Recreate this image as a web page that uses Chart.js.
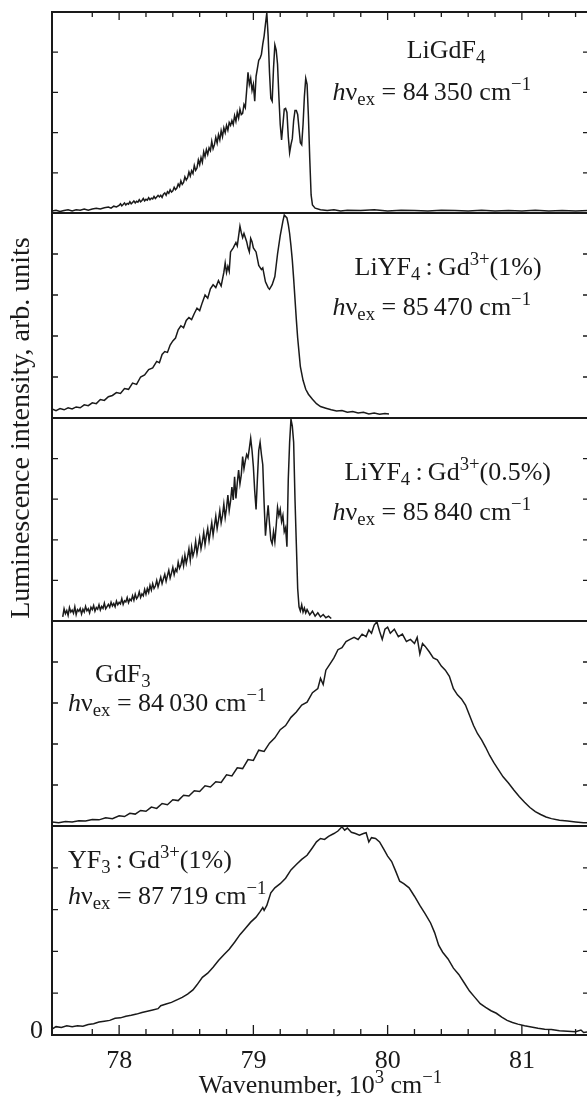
<!DOCTYPE html>
<html>
<head>
<meta charset="utf-8">
<script src="https://cdn.jsdelivr.net/npm/chart.js@4.4.1/dist/chart.umd.min.js"></script>
<style>
    html, body { margin: 0; padding: 0; background: #fff; overflow: hidden; }
    #wrap { position: relative; width: 600px; height: 1101px; }
</style>
</head>
<body>
<div id="wrap"><canvas id="spectra" width="600" height="1101"></canvas></div>
<script>
// Spectra: [wavenumber (10^3 cm^-1), intensity (arb. units, panel = 0..5)]
const liGdF4 = [
    [77.50,0.05],[77.53,0.07],[77.56,0.04],[77.59,0.06],[77.62,0.08],[77.65,0.05],[77.68,0.08],[77.71,0.07],
    [77.74,0.10],[77.77,0.07],[77.80,0.10],[77.83,0.12],[77.86,0.10],[77.89,0.13],[77.92,0.15],[77.94,0.12],
    [77.96,0.17],[77.98,0.15],[78.00,0.19],[78.01,0.23],[78.02,0.18],[78.03,0.21],[78.04,0.25],[78.05,0.20],
    [78.06,0.24],[78.07,0.22],[78.08,0.28],[78.09,0.23],[78.10,0.26],[78.11,0.30],[78.12,0.25],[78.13,0.29],
    [78.14,0.27],[78.15,0.33],[78.16,0.28],[78.17,0.31],[78.18,0.36],[78.19,0.30],[78.20,0.34],[78.21,0.32],
    [78.22,0.38],[78.23,0.33],[78.24,0.37],[78.25,0.35],[78.26,0.41],[78.27,0.36],[78.28,0.40],[78.29,0.44],
    [78.30,0.40],[78.31,0.44],[78.32,0.39],[78.33,0.47],[78.34,0.50],[78.35,0.44],[78.36,0.53],[78.37,0.49],
    [78.38,0.58],[78.39,0.52],[78.40,0.55],[78.41,0.64],[78.42,0.58],[78.43,0.62],[78.44,0.72],[78.45,0.66],
    [78.46,0.80],[78.47,0.71],[78.48,0.76],[78.49,0.90],[78.50,0.82],[78.51,0.88],[78.52,1.02],[78.53,0.92],
    [78.54,1.05],[78.55,0.98],[78.56,1.18],[78.57,1.06],[78.58,1.12],[78.59,1.32],[78.60,1.20],[78.61,1.38],
    [78.62,1.26],[78.63,1.52],[78.64,1.40],[78.65,1.58],[78.66,1.46],[78.67,1.62],[78.68,1.55],[78.69,1.78],
    [78.70,1.60],[78.71,1.70],[78.72,1.88],[78.73,1.74],[78.74,1.95],[78.75,1.82],[78.76,2.05],[78.77,1.90],
    [78.78,2.12],[78.79,2.00],[78.80,2.18],[78.81,2.06],[78.82,2.25],[78.83,2.18],[78.84,2.30],[78.85,2.20],
    [78.86,2.42],[78.87,2.28],[78.88,2.50],[78.89,2.36],[78.90,2.58],[78.91,2.45],[78.92,2.48],[78.93,2.70],
    [78.94,2.62],[78.95,3.05],[78.96,3.50],[78.97,3.20],[78.98,3.35],[78.99,3.05],[79.00,3.20],[79.01,2.78],
    [79.02,3.40],[79.03,3.60],[79.04,3.80],[79.05,3.85],[79.06,3.95],[79.07,4.20],[79.08,4.40],[79.09,4.70],
    [79.10,4.98],[79.11,4.40],[79.12,3.50],[79.13,2.85],[79.14,2.78],[79.15,3.60],[79.16,4.18],[79.17,4.05],
    [79.18,3.70],[79.19,2.90],[79.20,2.20],[79.21,1.82],[79.22,2.20],[79.23,2.58],[79.24,2.60],[79.25,2.50],
    [79.26,1.90],[79.27,1.50],[79.28,1.70],[79.29,1.85],[79.30,2.30],[79.31,2.55],[79.32,2.55],[79.33,2.45],
    [79.34,2.10],[79.35,1.75],[79.36,1.70],[79.37,2.20],[79.38,2.90],[79.39,3.35],[79.40,3.20],[79.41,2.40],
    [79.42,1.35],[79.43,0.45],[79.44,0.20],[79.46,0.12],[79.50,0.08],[79.55,0.06],[79.60,0.08],[79.65,0.05],
    [79.70,0.07],[79.80,0.06],[79.90,0.08],[80.00,0.05],[80.10,0.07],[80.20,0.06],[80.30,0.05],[80.40,0.07],
    [80.50,0.06],[80.60,0.05],[80.70,0.07],[80.80,0.05],[80.90,0.06],[81.00,0.05],[81.10,0.07],[81.20,0.05],
    [81.30,0.06],[81.40,0.05],[81.50,0.06]
];

const liYF4Gd1 = [
    [77.50,0.22],[77.53,0.18],[77.56,0.23],[77.59,0.20],[77.62,0.25],[77.65,0.22],[77.68,0.27],[77.71,0.25],
    [77.74,0.32],[77.77,0.30],[77.80,0.37],[77.83,0.35],[77.86,0.45],[77.89,0.43],[77.92,0.52],[77.95,0.55],
    [77.98,0.62],[78.01,0.60],[78.04,0.72],[78.07,0.70],[78.10,0.85],[78.13,0.82],[78.16,1.00],[78.19,1.05],
    [78.22,1.18],[78.25,1.22],[78.28,1.38],[78.30,1.35],[78.32,1.55],[78.34,1.62],[78.36,1.60],[78.38,1.78],
    [78.40,1.88],[78.42,1.95],[78.44,2.15],[78.46,2.25],[78.48,2.20],[78.50,2.38],[78.52,2.45],[78.54,2.40],
    [78.56,2.55],[78.58,2.68],[78.60,2.62],[78.62,2.82],[78.64,3.00],[78.66,2.92],[78.68,3.15],[78.70,3.25],
    [78.72,3.18],[78.74,3.35],[78.76,3.22],[78.78,3.55],[78.79,3.78],[78.80,3.55],[78.81,3.70],[78.82,3.58],
    [78.83,4.05],[78.85,4.15],[78.87,4.28],[78.88,4.20],[78.90,4.68],[78.91,4.52],[78.92,4.40],[78.93,4.50],
    [78.95,4.30],[78.96,4.15],[78.97,4.05],[78.98,4.38],[78.99,4.30],[79.00,4.15],[79.02,4.05],[79.04,3.72],
    [79.06,3.62],[79.07,3.66],[79.09,3.32],[79.11,3.18],[79.12,3.14],[79.14,3.25],[79.16,3.45],[79.18,4.00],
    [79.20,4.45],[79.22,4.80],[79.23,4.95],[79.25,4.88],[79.26,4.72],[79.27,4.50],[79.28,4.20],[79.29,3.85],
    [79.30,3.40],[79.31,2.90],[79.32,2.40],[79.33,1.95],[79.34,1.60],[79.35,1.25],[79.37,0.92],[79.39,0.70],
    [79.41,0.58],[79.44,0.46],[79.47,0.35],[79.50,0.28],[79.54,0.24],[79.58,0.20],[79.62,0.17],[79.66,0.18],
    [79.70,0.14],[79.74,0.16],[79.78,0.12],[79.82,0.14],[79.86,0.10],[79.90,0.12],[79.94,0.09],[79.98,0.11],
    [80.01,0.10]
];

const liYF4Gd05 = [
    [77.58,0.10],[77.59,0.30],[77.60,0.18],[77.61,0.26],[77.62,0.14],[77.63,0.33],[77.64,0.22],[77.65,0.27],
    [77.66,0.19],[77.67,0.35],[77.68,0.16],[77.69,0.28],[77.70,0.24],[77.71,0.31],[77.72,0.17],[77.73,0.29],
    [77.74,0.22],[77.75,0.36],[77.76,0.25],[77.77,0.30],[77.78,0.20],[77.79,0.34],[77.80,0.28],[77.81,0.38],
    [77.82,0.24],[77.83,0.33],[77.84,0.29],[77.85,0.40],[77.86,0.27],[77.87,0.36],[77.88,0.31],[77.89,0.44],
    [77.90,0.30],[77.92,0.41],[77.93,0.34],[77.94,0.46],[77.95,0.37],[77.96,0.43],[77.97,0.35],[77.98,0.49],
    [77.99,0.40],[78.00,0.46],[78.01,0.42],[78.02,0.55],[78.03,0.41],[78.04,0.50],[78.05,0.47],[78.06,0.58],
    [78.07,0.45],[78.08,0.54],[78.09,0.50],[78.10,0.62],[78.11,0.51],[78.12,0.66],[78.13,0.55],[78.14,0.60],
    [78.15,0.72],[78.16,0.58],[78.17,0.67],[78.18,0.62],[78.19,0.78],[78.20,0.66],[78.21,0.80],[78.22,0.70],
    [78.23,0.88],[78.24,0.76],[78.25,0.92],[78.26,0.80],[78.27,0.86],[78.28,1.00],[78.29,0.84],[78.30,0.96],
    [78.31,1.08],[78.32,0.92],[78.33,1.04],[78.34,1.15],[78.35,0.98],[78.36,1.12],[78.37,1.25],[78.38,1.06],
    [78.39,1.18],[78.40,1.32],[78.41,1.14],[78.42,1.28],[78.43,1.22],[78.44,1.45],[78.45,1.30],[78.46,1.38],
    [78.47,1.55],[78.48,1.36],[78.49,1.62],[78.50,1.42],[78.51,1.58],[78.52,1.78],[78.53,1.50],[78.54,1.82],
    [78.55,1.60],[78.56,1.72],[78.57,1.96],[78.58,1.66],[78.59,1.85],[78.60,2.05],[78.61,1.78],[78.62,1.95],
    [78.63,2.18],[78.64,1.88],[78.65,2.10],[78.66,2.28],[78.67,1.98],[78.68,2.20],[78.69,2.42],[78.70,2.12],
    [78.71,2.35],[78.72,2.58],[78.73,2.28],[78.74,2.48],[78.75,2.72],[78.76,2.42],[78.77,2.60],[78.78,2.88],
    [78.79,2.55],[78.80,2.78],[78.81,3.10],[78.82,2.72],[78.83,2.95],[78.84,3.30],[78.85,2.98],[78.86,3.55],
    [78.87,3.02],[78.88,3.40],[78.89,3.72],[78.90,3.38],[78.91,3.60],[78.92,4.05],[78.93,3.75],[78.94,3.95],
    [78.95,4.10],[78.96,4.02],[78.97,4.25],[78.98,4.50],[78.99,4.20],[79.00,3.80],[79.01,3.20],[79.02,2.75],
    [79.03,3.50],[79.04,4.20],[79.05,4.40],[79.06,4.10],[79.07,3.85],[79.08,2.90],[79.09,2.10],[79.10,2.50],
    [79.11,2.85],[79.12,2.40],[79.13,2.00],[79.14,1.90],[79.15,2.20],[79.16,1.95],[79.17,2.35],[79.18,2.80],
    [79.19,2.60],[79.20,2.75],[79.21,2.45],[79.22,2.60],[79.23,2.20],[79.24,2.30],[79.25,1.83],[79.26,3.50],
    [79.27,4.40],[79.28,4.97],[79.29,4.80],[79.30,4.40],[79.31,3.00],[79.32,1.90],[79.33,0.80],[79.34,0.35],
    [79.35,0.25],[79.36,0.40],[79.37,0.22],[79.38,0.32],[79.39,0.20],[79.40,0.28],[79.42,0.15],[79.44,0.24],
    [79.46,0.12],[79.48,0.20],[79.50,0.10],[79.52,0.16],[79.54,0.08],[79.56,0.12],[79.58,0.06]
];

const gdF3 = [
    [77.50,0.10],[77.55,0.08],[77.60,0.11],[77.65,0.10],[77.70,0.13],[77.75,0.12],[77.80,0.16],[77.85,0.15],
    [77.90,0.20],[77.95,0.18],[78.00,0.25],[78.04,0.23],[78.08,0.31],[78.12,0.29],[78.16,0.38],[78.20,0.36],
    [78.24,0.46],[78.28,0.43],[78.32,0.55],[78.36,0.52],[78.40,0.64],[78.44,0.62],[78.48,0.75],[78.52,0.73],
    [78.56,0.86],[78.60,0.84],[78.64,0.98],[78.68,0.95],[78.72,1.08],[78.76,1.06],[78.80,1.25],[78.84,1.22],
    [78.88,1.42],[78.92,1.40],[78.96,1.62],[79.00,1.60],[79.04,1.85],[79.08,1.82],[79.12,2.02],[79.16,2.15],
    [79.20,2.35],[79.24,2.45],[79.28,2.65],[79.32,2.78],[79.36,2.95],[79.40,3.02],[79.44,3.25],[79.48,3.35],
    [79.50,3.60],[79.52,3.45],[79.54,3.80],[79.57,3.95],[79.60,4.10],[79.63,4.30],[79.66,4.35],[79.69,4.50],
    [79.72,4.55],[79.75,4.60],[79.78,4.55],[79.81,4.68],[79.84,4.62],[79.86,4.78],[79.88,4.70],[79.90,4.90],
    [79.92,4.98],[79.94,4.75],[79.96,4.55],[79.98,4.80],[80.00,4.85],[80.02,4.70],[80.05,4.80],[80.08,4.62],
    [80.11,4.68],[80.14,4.50],[80.17,4.55],[80.20,4.45],[80.22,4.60],[80.24,4.20],[80.26,4.45],[80.28,4.38],
    [80.31,4.25],[80.34,4.10],[80.37,4.05],[80.40,3.90],[80.43,3.80],[80.46,3.65],[80.49,3.35],[80.52,3.20],
    [80.55,3.10],[80.58,2.95],[80.61,2.70],[80.64,2.45],[80.67,2.25],[80.70,2.10],[80.73,1.92],[80.76,1.72],
    [80.79,1.55],[80.82,1.40],[80.86,1.20],[80.90,1.05],[80.94,0.88],[80.98,0.72],[81.02,0.58],[81.06,0.45],
    [81.10,0.35],[81.14,0.28],[81.18,0.22],[81.22,0.18],[81.28,0.14],[81.34,0.12],[81.40,0.10],[81.46,0.08],
    [81.50,0.08]
];

const yF3Gd1 = [
    [77.50,0.14],[77.53,0.20],[77.57,0.18],[77.61,0.22],[77.65,0.20],[77.69,0.22],[77.73,0.21],[77.77,0.25],
    [77.81,0.27],[77.85,0.31],[77.89,0.33],[77.93,0.35],[77.97,0.40],[78.01,0.41],[78.05,0.45],[78.09,0.47],
    [78.13,0.50],[78.17,0.54],[78.21,0.57],[78.25,0.60],[78.29,0.63],[78.31,0.70],[78.35,0.74],[78.39,0.78],
    [78.43,0.84],[78.47,0.90],[78.51,0.98],[78.55,1.08],[78.58,1.20],[78.62,1.38],[78.66,1.48],[78.70,1.62],
    [78.74,1.78],[78.78,1.92],[78.82,2.05],[78.86,2.22],[78.90,2.40],[78.94,2.55],[78.98,2.70],[79.02,2.82],
    [79.05,2.95],[79.07,3.05],[79.08,2.98],[79.10,3.10],[79.13,3.40],[79.16,3.52],[79.20,3.62],[79.24,3.75],
    [79.28,3.95],[79.32,4.08],[79.36,4.20],[79.40,4.30],[79.44,4.48],[79.47,4.62],[79.50,4.70],[79.53,4.68],
    [79.56,4.75],[79.60,4.82],[79.63,4.88],[79.66,4.98],[79.68,4.90],[79.70,4.95],[79.73,4.85],[79.76,4.82],
    [79.79,4.78],[79.82,4.82],[79.84,4.84],[79.86,4.62],[79.88,4.72],[79.91,4.70],[79.94,4.62],[79.97,4.45],
    [80.00,4.28],[80.03,4.15],[80.06,3.92],[80.09,3.68],[80.12,3.62],[80.16,3.52],[80.20,3.32],[80.24,3.10],
    [80.28,2.90],[80.32,2.68],[80.35,2.45],[80.38,2.15],[80.41,1.98],[80.45,1.82],[80.49,1.60],[80.53,1.45],
    [80.57,1.25],[80.61,1.05],[80.65,0.90],[80.69,0.75],[80.73,0.66],[80.77,0.58],[80.81,0.52],[80.85,0.43],
    [80.89,0.35],[80.93,0.30],[80.97,0.26],[81.02,0.22],[81.07,0.19],[81.12,0.16],[81.17,0.14],[81.22,0.13],
    [81.28,0.10],[81.34,0.09],[81.40,0.08],[81.44,0.12],[81.46,0.06],[81.50,0.08]
];

const xTickLabels = [78, 79, 80, 81];
const yTickLabels = ['0'];
const xRange = [77.5, 81.5];

const SERIF = '"Liberation Serif", "Times New Roman", Times, serif';
const INK = '#1a1a1a';
const FS = 26;

// panels from bottom to top (Chart.js stacks the last defined left axis on top)
const panels = [
    { id: 'yYF3',    data: yF3Gd1,    weight: 209 },
    { id: 'yGdF3',   data: gdF3,      weight: 205 },
    { id: 'yLiYF4h', data: liYF4Gd05, weight: 203 },
    { id: 'yLiYF4',  data: liYF4Gd1,  weight: 205 },
    { id: 'yLiGdF4', data: liGdF4,    weight: 201 }
];

// label text; x/y in axis units of the panel
const panelLabels = [
    { axis: 'yLiGdF4', x: 80.142, y: 3.86, segs: [['LiGdF'], ['4', 'sub']] },
    { axis: 'yLiGdF4', x: 79.59,  y: 2.81, segs: [['h', 'i'], ['\u03bd'], ['ex', 'sub'], [' = 84\u2009350 cm'], ['\u22121', 'sup']] },
    { axis: 'yLiYF4',  x: 79.754, y: 3.49, segs: [['LiYF'], ['4', 'sub'], ['\u2009:\u2009Gd'], ['3+', 'sup'], ['(1%)']] },
    { axis: 'yLiYF4',  x: 79.59,  y: 2.51, segs: [['h', 'i'], ['\u03bd'], ['ex', 'sub'], [' = 85\u2009470 cm'], ['\u22121', 'sup']] },
    { axis: 'yLiYF4h', x: 79.679, y: 3.47, segs: [['LiYF'], ['4', 'sub'], ['\u2009:\u2009Gd'], ['3+', 'sup'], ['(0.5%)']] },
    { axis: 'yLiYF4h', x: 79.59,  y: 2.49, segs: [['h', 'i'], ['\u03bd'], ['ex', 'sub'], [' = 85\u2009840 cm'], ['\u22121', 'sup']] },
    { axis: 'yGdF3',   x: 77.821, y: 3.51, segs: [['GdF'], ['3', 'sub']] },
    { axis: 'yGdF3',   x: 77.619, y: 2.80, segs: [['h', 'i'], ['\u03bd'], ['ex', 'sub'], [' = 84\u2009030 cm'], ['\u22121', 'sup']] },
    { axis: 'yYF3',    x: 77.619, y: 4.00, segs: [['YF'], ['3', 'sub'], ['\u2009:\u2009Gd'], ['3+', 'sup'], ['(1%)']] },
    { axis: 'yYF3',    x: 77.619, y: 3.13, segs: [['h', 'i'], ['\u03bd'], ['ex', 'sub'], [' = 87\u2009719 cm'], ['\u22121', 'sup']] }
];

function drawRich(ctx, segs, x, y, size, measureOnly) {
    let cx = x;
    segs.forEach(([text, kind]) => {
        let fs = size, dy = 0, style = '';
        if (kind === 'sub') { fs = size * 0.72; dy = size * 0.2; }
        if (kind === 'sup') { fs = size * 0.72; dy = -size * 0.38; }
        if (kind === 'i') style = 'italic ';
        ctx.font = style + fs + 'px ' + SERIF;
        if (!measureOnly) ctx.fillText(text, cx, y + dy);
        cx += ctx.measureText(text).width;
    });
    return cx - x;
}

const framePlugin = {
    id: 'frame',
    afterDraw(chart) {
        const ctx = chart.ctx;
        const area = chart.chartArea;
        const xs = chart.scales.x;
        ctx.save();
        ctx.strokeStyle = INK;
        ctx.fillStyle = INK;

        // outer frame and panel separators
        ctx.lineWidth = 2;
        ctx.beginPath();
        ctx.rect(area.left, area.top, area.right - area.left, area.bottom - area.top);
        panels.forEach(p => {
            const s = chart.scales[p.id];
            ctx.moveTo(area.left, s.top);
            ctx.lineTo(area.right, s.top);
        });
        ctx.stroke();

        // inward ticks
        ctx.lineWidth = 1.3;
        ctx.beginPath();
        panels.forEach(p => {
            const s = chart.scales[p.id];
            for (let v = 1; v <= 4; v++) {
                const py = s.getPixelForValue(v);
                ctx.moveTo(area.left, py); ctx.lineTo(area.left + 6, py);
                ctx.moveTo(area.right, py); ctx.lineTo(area.right - 6, py);
            }
        });
        for (let i = 1; i < 20; i++) {
            const v = xRange[0] + 0.1 + i * 0.2;
            const major = Math.abs(v - Math.round(v)) < 1e-6;
            const px = xs.getPixelForValue(v);
            ctx.moveTo(px, area.bottom); ctx.lineTo(px, area.bottom - (major ? 10 : 6));
            ctx.moveTo(px, area.top); ctx.lineTo(px, area.top + (major ? 8 : 5));
        }
        ctx.stroke();

        // the single y tick label at the bottom
        ctx.font = FS + 'px ' + SERIF;
        ctx.textAlign = 'right';
        ctx.textBaseline = 'alphabetic';
        ctx.fillText(yTickLabels[0], area.left - 9, chart.scales.yYF3.getPixelForValue(0) + 3);

        // panel labels
        ctx.textAlign = 'left';
        panelLabels.forEach(l => {
            const s = chart.scales[l.axis];
            drawRich(ctx, l.segs, xs.getPixelForValue(l.x), s.getPixelForValue(l.y), FS);
        });

        // x title
        const xTitle = [['Wavenumber, 10'], ['3', 'sup'], [' cm'], ['\u22121', 'sup']];
        const w = drawRich(ctx, xTitle, 0, 0, FS, true);
        drawRich(ctx, xTitle, (area.left + area.right) / 2 - w / 2, 1093, FS);

        // y title
        ctx.translate(21, 428);
        ctx.rotate(-Math.PI / 2);
        ctx.textAlign = 'center';
        ctx.font = '28px ' + SERIF;
        ctx.fillText('Luminescence intensity, arb. units', 0, 8);
        ctx.restore();
    }
};

const scales = {
    x: {
        type: 'linear',
        position: 'bottom',
        min: xRange[0],
        max: xRange[1],
        grid: { display: false, drawTicks: false },
        border: { display: false },
        afterBuildTicks: s => { s.ticks = xTickLabels.map(v => ({ value: v })); },
        afterFit: s => { s.height = 66; },
        ticks: {
            autoSkip: false,
            maxRotation: 0,
            padding: 11,
            color: INK,
            font: { family: SERIF, size: FS }
        }
    }
};

panels.forEach(p => {
    scales[p.id] = {
        type: 'linear',
        position: 'left',
        stack: 'panels',
        stackWeight: p.weight,
        min: 0,
        max: 5,
        grid: { display: false, drawTicks: false },
        border: { display: false },
        afterFit: s => { s.width = 52; },
        ticks: { display: false }
    };
});

new Chart(document.getElementById('spectra'), {
    type: 'line',
    data: {
        datasets: panels.map(p => ({
            data: p.data.map(([x, y]) => ({ x, y })),
            yAxisID: p.id,
            borderColor: INK,
            borderWidth: 1.5,
            pointRadius: 0,
            tension: 0,
            fill: false
        }))
    },
    options: {
        responsive: false,
        animation: false,
        devicePixelRatio: 1,
        layout: { padding: { top: 12, right: 11, left: 0, bottom: 0 } },
        plugins: {
            legend: { display: false },
            tooltip: { enabled: false }
        },
        scales: scales
    },
    plugins: [framePlugin]
});
</script>
</body>
</html>
